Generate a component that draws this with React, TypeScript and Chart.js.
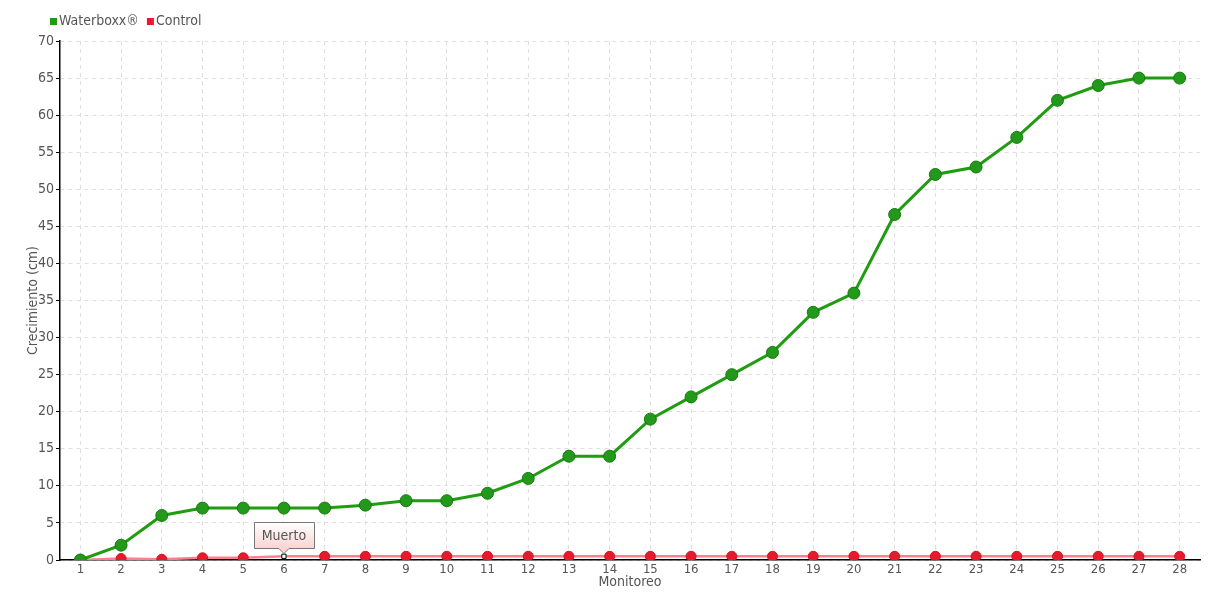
import React, { useEffect, useRef } from "react";
import { Chart, registerables } from "chart.js";

Chart.register(...registerables);

const labels = ["1","2","3","4","5","6","7","8","9","10","11","12","13","14","15","16","17","18","19","20","21","22","23","24","25","26","27","28"];
const waterboxx = [0, 2, 6, 7, 7, 7, 7, 7.4, 8, 8, 9, 11, 14, 14, 19, 22, 25, 28, 33.4, 36, 46.6, 52, 53, 57, 62, 64, 65, 65];
const control = [0, 0.2, 0.1, 0.3, 0.3, 0.5, 0.5, 0.5, 0.5, 0.5, 0.5, 0.5, 0.5, 0.5, 0.5, 0.5, 0.5, 0.5, 0.5, 0.5, 0.5, 0.5, 0.5, 0.5, 0.5, 0.5, 0.5, 0.5];
const noteIndex = 5;
const noteText = "Muerto";

const FONT = "'DejaVu Sans Condensed', 'Liberation Sans Narrow', 'DejaVu Sans', sans-serif";

const notePlugin = {
  id: "notePlugin",
  afterDatasetsDraw(chart: any) {
    const meta = chart.getDatasetMeta(1);
    const el = meta.data[noteIndex];
    if (!el) return;
    const ctx = chart.ctx;
    const x = el.x;
    const y = el.y;
    const w = 60, h = 26;
    const bx = Math.round(x - w / 2) + 0.5;
    const by = Math.round(y - 8 - h) + 0.5;
    ctx.save();
    const g = ctx.createLinearGradient(0, by, 0, by + h);
    g.addColorStop(0, "#ffffff");
    g.addColorStop(1, "#fbd3d3");
    ctx.beginPath();
    ctx.moveTo(bx, by);
    ctx.lineTo(bx + w, by);
    ctx.lineTo(bx + w, by + h);
    ctx.lineTo(x + 5, by + h);
    ctx.lineTo(x, by + h + 5);
    ctx.lineTo(x - 5, by + h);
    ctx.lineTo(bx, by + h);
    ctx.closePath();
    ctx.fillStyle = g;
    ctx.fill();
    ctx.strokeStyle = "#777777";
    ctx.lineWidth = 1;
    ctx.stroke();
    ctx.fillStyle = "#555555";
    ctx.font = "14px " + FONT;
    ctx.textAlign = "center";
    ctx.textBaseline = "middle";
    ctx.fillText(noteText, x, by + h / 2 + 1);
    ctx.restore();
  },
};

const legendPlugin = {
  id: "customLegend",
  afterDraw(chart: any) {
    const ctx = chart.ctx;
    ctx.save();
    ctx.font = "14px " + FONT;
    ctx.textBaseline = "middle";
    ctx.textAlign = "left";
    let x = 50;
    const y = 21;
    chart.data.datasets.forEach((d: any) => {
      ctx.fillStyle = d.backgroundColor;
      ctx.fillRect(x, y - 3, 7, 7);
      x += 9;
      ctx.fillStyle = "#555555";
      ctx.fillText(d.label, x, y);
      x += ctx.measureText(d.label).width + 8;
    });
    ctx.restore();
  },
};

export default function App() {
  const ref = useRef<HTMLCanvasElement>(null);
  useEffect(() => {
    document.body.style.margin = "0";
    const ctrlStyles = control.map((_, i) => (i === noteIndex ? "rect" : "circle"));
    const ctrlRadius = control.map((_, i) => (i === noteIndex ? 3 : 5));
    const ctrlBg = control.map((_, i) => (i === noteIndex ? "#ffffff" : "#e8192c"));
    const ctrlBorder = control.map((_, i) => (i === noteIndex ? "#000000" : "#d8101f"));
    const chart = new Chart(ref.current!, {
      type: "line",
      data: {
        labels,
        datasets: [
          {
            label: "Waterboxx®",
            data: waterboxx,
            borderColor: "#1f9c10",
            backgroundColor: "#1f9c10",
            borderWidth: 3,
            pointRadius: 6,
            pointHoverRadius: 6,
            pointBackgroundColor: "#22991a",
            pointBorderColor: "#177a0e",
            pointBorderWidth: 1,
            tension: 0,
          },
          {
            label: "Control",
            data: control,
            borderColor: "#ff7f8c",
            backgroundColor: "#e8192c",
            borderWidth: 2.5,
            pointStyle: ctrlStyles as any,
            pointRadius: ctrlRadius,
            pointHoverRadius: ctrlRadius,
            pointBackgroundColor: ctrlBg,
            pointBorderColor: ctrlBorder,
            pointBorderWidth: 1,
            tension: 0,
          },
        ],
      },
      options: {
        animation: false,
        responsive: false,
        maintainAspectRatio: false,
        layout: { padding: { top: 41, right: 20, left: 25, bottom: 9 } },
        plugins: {
          tooltip: { enabled: false },
          legend: { display: false },
        },
        scales: {
          x: {
            offset: true,
            grid: {
              display: true,
              offset: false,
              color: "#dedede",
              drawTicks: false,
            } as any,
            border: { display: true, color: "#000000", width: 1.5, dash: [4, 4] as any },
            ticks: {
              color: "#555555",
              font: { family: FONT, size: 13 },
              padding: 2,
              maxRotation: 0,
              autoSkip: false,
            },
            title: {
              display: true,
              text: "Monitoreo",
              color: "#555555",
              font: { family: FONT, size: 14 },
              padding: { top: -3, bottom: 0 },
            },
            afterFit(scale: any) {
              scale.height = 31;
            },
          },
          y: {
            min: 0,
            max: 70,
            ticks: {
              stepSize: 5,
              color: "#555555",
              font: { family: FONT, size: 14 },
              padding: 2,
            },
            grid: {
              color: "#dedede",
              tickColor: "#000000",
              tickLength: 4,
            },
            border: { display: true, color: "#000000", width: 1.5, dash: [4, 4] },
            title: {
              display: true,
              text: "Crecimiento (cm)",
              color: "#555555",
              font: { family: FONT, size: 14 },
              padding: { top: 0, bottom: 2 },
            },
            afterFit(scale: any) {
              scale.width = 35;
            },
          },
        },
      },
      plugins: [notePlugin, legendPlugin],
    });
    return () => chart.destroy();
  }, []);
  return (
    <div style={{ position: "absolute", left: 0, top: 0, width: 1220, height: 600 }}>
      <canvas ref={ref} width={1220} height={600} style={{ display: "block" }} />
    </div>
  );
}
